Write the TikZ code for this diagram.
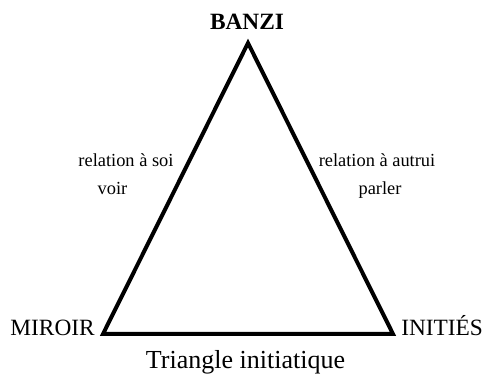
\documentclass[tikz,border=0pt]{standalone}
\usepackage{fontspec}
\setmainfont{Liberation Serif}
\begin{document}
\begin{tikzpicture}[x=0.75pt,y=0.75pt]
    \useasboundingbox (0,0) rectangle (486,377);
    \coordinate (top) at (248,334);
    \coordinate (left) at (103,43);
    \coordinate (right) at (393,43);
    \draw[line width=3pt, line join=miter] (top) -- (left) -- (right) -- cycle;
    \node[anchor=base, font=\fontsize{17.5}{20}\selectfont\bfseries] (banzi) at (247,347) {BANZI};
    \node[anchor=base east, inner sep=0pt, font=\fontsize{17.5}{20}\selectfont] (miroir) at (95,41) {MIROIR};
    \node[anchor=base west, inner sep=0pt, font=\fontsize{17.5}{20}\selectfont] (inities) at (401,41) {INITIÉS};
    \node[anchor=base, font=\fontsize{19.5}{22}\selectfont] (titre) at (245.5,8) {Triangle initiatique};
    \node[anchor=base, font=\fontsize{13.8}{16}\selectfont] (soi) at (126,210) {relation à soi};
    \node[anchor=base, font=\fontsize{13.8}{16}\selectfont] (voir) at (112.5,182) {voir};
    \node[anchor=base, font=\fontsize{13.8}{16}\selectfont] (autrui) at (377,210) {relation à autrui};
    \node[anchor=base, font=\fontsize{13.8}{16}\selectfont] (parler) at (380,182) {parler};
  \end{tikzpicture}
\end{document}
